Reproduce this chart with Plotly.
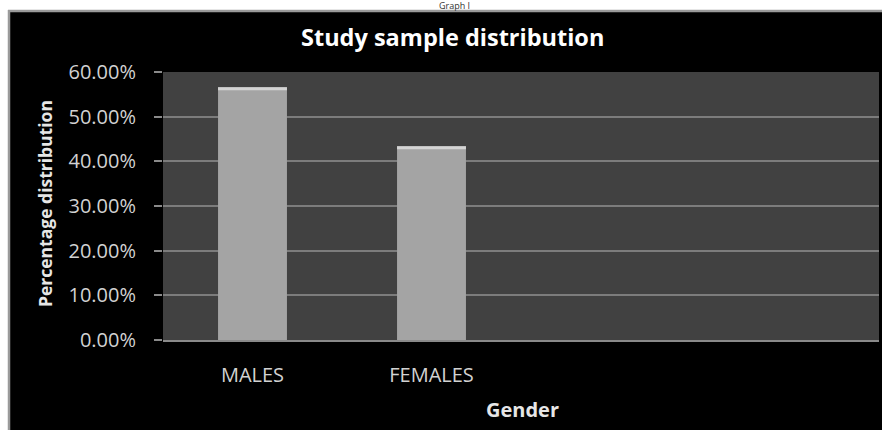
import plotly.graph_objects as go

# ---- data ----
categories = ["MALES", "FEMALES"]
values = [56.6, 43.4]
y_tick_values = [0, 10, 20, 30, 40, 50, 60]
y_tick_labels = ["0.00%", "10.00%", "20.00%", "30.00%", "40.00%", "50.00%", "60.00%"]
chart_title = "Study sample distribution"
caption_text = "Graph I"
x_title = "Gender"
y_title = "Percentage distribution"

# ---- layout geometry (pixels) ----
W, H = 882, 430
L, R, T, B = 163, 3, 72, 90
PW = W - L - R
PH = H - T - B


def px(x):
    return (x - L) / PW


def py(y):
    return (H - B - y) / PH


cap = 0.7
fig = go.Figure()
fig.add_trace(go.Bar(
    x=categories, y=values, width=0.385,
    marker=dict(color="#a4a4a4", line=dict(width=0)),
    hoverinfo="skip", showlegend=False,
))
fig.add_trace(go.Bar(
    x=categories, y=[cap] * len(values), base=[v - cap for v in values], width=0.385,
    marker=dict(color="#d4d4d4", line=dict(width=0)),
    hoverinfo="skip", showlegend=False,
))

tick_font = dict(family="Open Sans", size=20, color="#d2d2d2")

fig.update_layout(
    width=W, height=H,
    margin=dict(l=L, r=R, t=T, b=B, autoexpand=False),
    paper_bgcolor="black",
    plot_bgcolor="#414141",
    barmode="overlay",
    showlegend=False,
    xaxis=dict(
        type="category", categoryorder="array", categoryarray=categories,
        range=[-0.5, 3.5], showgrid=False, zeroline=False,
        showline=True, linecolor="#8a8a8a", linewidth=2,
        ticks="", tickfont=tick_font, ticklabelstandoff=16,
    ),
    yaxis=dict(
        range=[0, 60], tickvals=y_tick_values, ticktext=y_tick_labels,
        showgrid=True, gridcolor="#7c7c7c", gridwidth=1.5, zeroline=False,
        showline=False, ticks="outside", ticklen=8, tickcolor="#8a8a8a", tickwidth=1.5,
        tickfont=tick_font, ticklabelstandoff=14,
    ),
    shapes=[
        dict(type="rect", xref="paper", yref="paper", layer="above",
             x0=px(-10), x1=px(900), y0=py(10), y1=py(-10),
             fillcolor="white", line=dict(width=0)),
        dict(type="rect", xref="paper", yref="paper", layer="above",
             x0=px(-10), x1=px(8), y0=py(440), y1=py(10),
             fillcolor="white", line=dict(width=0)),
        dict(type="line", xref="paper", yref="paper", layer="above",
             x0=px(8), x1=px(900), y0=py(11), y1=py(11),
             line=dict(color="#9a9a9a", width=2.5)),
        dict(type="line", xref="paper", yref="paper", layer="above",
             x0=px(9), x1=px(9), y0=py(10), y1=py(440),
             line=dict(color="#9a9a9a", width=2.5)),
    ],
    annotations=[
        dict(text=caption_text, xref="paper", yref="paper", x=px(454), y=py(5.5),
             xanchor="center", yanchor="middle", showarrow=False,
             font=dict(family="Open Sans", size=9, color="#333333")),
        dict(text="<b>" + chart_title + "</b>", xref="paper", yref="paper",
             x=px(452), y=py(37), xanchor="center", yanchor="middle", showarrow=False,
             font=dict(family="Open Sans", size=23.5, color="white")),
        dict(text="<b>" + x_title + "</b>", xref="paper", yref="paper",
             x=px(522), y=py(409), xanchor="center", yanchor="middle", showarrow=False,
             font=dict(family="Open Sans", size=20, color="#e6e6e6")),
        dict(text="<b>" + y_title + "</b>", xref="paper", yref="paper",
             x=px(45), y=py(204), xanchor="center", yanchor="middle", showarrow=False,
             textangle=-90,
             font=dict(family="Open Sans", size=17.5, color="#e6e6e6")),
    ],
)

fig.write_html(
    "out.html",
    config={"displayModeBar": False},
    post_script="document.body.style.margin='0';document.body.style.padding='0';",
)
